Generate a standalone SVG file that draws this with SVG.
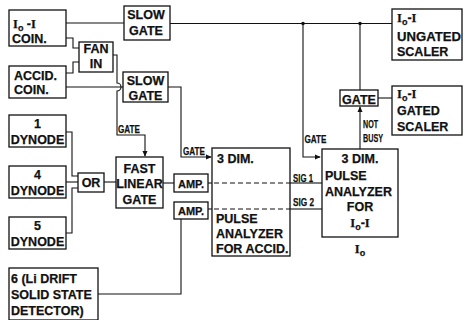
<svg xmlns="http://www.w3.org/2000/svg" width="465" height="320" viewBox="0 0 465 320">
<style>
.bx{fill:#fff;stroke:#111;stroke-width:1.3}
.ln{fill:none;stroke:#111;stroke-width:1.1}
.dash{fill:none;stroke:#111;stroke-width:1.1;stroke-dasharray:5 3}
text{font-family:"Liberation Sans",Arial,sans-serif;font-weight:bold;font-size:12.5px;fill:#111;stroke:#111;stroke-width:0.25}
.s{font-size:11px}
.m{font-size:11px}
.c{text-anchor:middle}
.sv{font-family:"Liberation Serif","Times New Roman",serif}
.sub{font-size:9px}
</style>
<defs>
<marker id="ah" viewBox="0 0 8 8" refX="7" refY="4" markerWidth="6" markerHeight="6" orient="auto" markerUnits="userSpaceOnUse">
<path d="M0,0.5 L8,4 L0,7.5 Z" fill="#111"/>
</marker>
</defs>
<rect width="465" height="320" fill="#fff"/>
<g id="connectors">
<path class="ln" d="M66,23 H124"/>
<path class="ln" d="M170,23.5 H392"/>
<circle cx="303" cy="23.5" r="1.8" fill="#111"/>
<circle cx="360" cy="23.5" r="1.8" fill="#111"/>
<path class="ln" d="M303,23.5 V157 H320" marker-end="url(#ah)"/>
<path class="ln" d="M360,23.5 V90"/>
<path class="ln" d="M378,98 H392"/>
<path class="ln" d="M360,149 V107" marker-end="url(#ah)"/>
<path class="ln" d="M66,38 H73 V48 H79"/>
<path class="ln" d="M66,73 H73 V62 H79"/>
<path class="ln" d="M66,87 H123"/>
<path class="ln" d="M113,55 H117 V83 A4,4 0 0 1 117,91 V135 H145 V156" marker-end="url(#ah)"/>
<path class="ln" d="M168,87 H181 V157 H211" marker-end="url(#ah)"/>
<path class="ln" d="M66,132 H72 V176 H78"/>
<path class="ln" d="M66,182 H78"/>
<path class="ln" d="M66,233 H72 V188 H78"/>
<path class="ln" d="M104,182 H116"/>
<path class="ln" d="M163,183 H174"/>
<path class="ln" d="M208,183 H212"/>
<path class="dash" d="M214,183 H290"/>
<path class="ln" d="M290,183 H322"/>
<path class="ln" d="M208,209 H212"/>
<path class="dash" d="M214,209 H290"/>
<path class="ln" d="M290,209 H322"/>
<path class="ln" d="M98,294 H181 V219"/>
<text class="s" x="118" y="133" textLength="22" lengthAdjust="spacingAndGlyphs">GATE</text>
<text class="s" x="183" y="155" textLength="22" lengthAdjust="spacingAndGlyphs">GATE</text>
<text class="s" x="304.5" y="143" textLength="22" lengthAdjust="spacingAndGlyphs">GATE</text>
<text class="s" x="363" y="128" textLength="15" lengthAdjust="spacingAndGlyphs">NOT</text>
<text class="s" x="363" y="142" textLength="20" lengthAdjust="spacingAndGlyphs">BUSY</text>
<text class="s" x="293" y="181.5" textLength="20" lengthAdjust="spacingAndGlyphs">SIG 1</text>
<text class="s" x="293" y="206" textLength="21" lengthAdjust="spacingAndGlyphs">SIG 2</text>
</g>
<g id="io-coin">
<rect class="bx" x="9" y="10" width="57" height="36"/>
<text x="13" y="28"><tspan class="sv">I</tspan><tspan class="sub" dy="3">o</tspan><tspan dy="-3"> -</tspan><tspan class="sv">I</tspan></text>
<text x="12" y="43">COIN.</text>
</g>
<g id="accid-coin">
<rect class="bx" x="9" y="66" width="57" height="32"/>
<text x="14" y="80">ACCID.</text>
<text x="14" y="94">COIN.</text>
</g>
<g id="fan-in">
<rect class="bx" x="79" y="42" width="34" height="30"/>
<text class="c" x="96" y="53">FAN</text>
<text class="c" x="96" y="68">IN</text>
</g>
<g id="slow-gate-1">
<rect class="bx" x="124" y="6" width="46" height="34"/>
<text class="c" x="146" y="19">SLOW</text>
<text class="c" x="146" y="35">GATE</text>
</g>
<g id="slow-gate-2">
<rect class="bx" x="123" y="72" width="45" height="30"/>
<text class="c" x="145.5" y="85">SLOW</text>
<text class="c" x="145.5" y="100">GATE</text>
</g>
<g id="ungated-scaler">
<rect class="bx" x="392" y="9" width="70" height="51"/>
<text x="397" y="22"><tspan class="sv">I</tspan><tspan class="sub" dy="3">o</tspan><tspan dy="-3">-</tspan><tspan class="sv">I</tspan></text>
<text x="397" y="41" textLength="64" lengthAdjust="spacingAndGlyphs">UNGATED</text>
<text x="397" y="56">SCALER</text>
</g>
<g id="gate">
<rect class="bx" x="340" y="90" width="38" height="16"/>
<text class="c" x="359" y="103.5">GATE</text>
</g>
<g id="gated-scaler">
<rect class="bx" x="392" y="86" width="70" height="49"/>
<text x="397" y="98"><tspan class="sv">I</tspan><tspan class="sub" dy="3">o</tspan><tspan dy="-3">-</tspan><tspan class="sv">I</tspan></text>
<text x="397" y="115">GATED</text>
<text x="397" y="131">SCALER</text>
</g>
<g id="dynode-1">
<rect class="bx" x="9" y="115" width="57" height="32"/>
<text class="c" x="37.5" y="128">1</text>
<text class="c" x="37.5" y="144">DYNODE</text>
</g>
<g id="dynode-4">
<rect class="bx" x="9" y="166" width="57" height="32"/>
<text class="c" x="37.5" y="179">4</text>
<text class="c" x="37.5" y="195">DYNODE</text>
</g>
<g id="dynode-5">
<rect class="bx" x="9" y="217" width="57" height="32"/>
<text class="c" x="37.5" y="230">5</text>
<text class="c" x="37.5" y="246">DYNODE</text>
</g>
<g id="or">
<rect class="bx" x="78" y="173" width="26" height="19"/>
<text class="c" x="91" y="187">OR</text>
</g>
<g id="fast-linear-gate">
<rect class="bx" x="116" y="157" width="47" height="51"/>
<text class="c" x="139.5" y="173">FAST</text>
<text class="c" x="139.5" y="188">LINEAR</text>
<text class="c" x="139.5" y="204">GATE</text>
</g>
<g id="amp-1">
<rect class="bx" x="174" y="174" width="34" height="18"/>
<text class="m c" x="191" y="188">AMP.</text>
</g>
<g id="amp-2">
<rect class="bx" x="174" y="202" width="34" height="17"/>
<text class="m c" x="191" y="214.5">AMP.</text>
</g>
<g id="pha-accid">
<rect class="bx" x="212" y="148" width="78" height="108" style="fill:none"/>
<text x="217" y="163">3 DIM.</text>
<text x="216" y="223">PULSE</text>
<text x="216" y="238">ANALYZER</text>
<text x="216" y="253">FOR ACCID.</text>
</g>
<g id="pha-io">
<rect class="bx" x="322" y="149" width="76" height="88"/>
<text class="c" x="360" y="163">3 DIM.</text>
<text x="325" y="180">PULSE</text>
<text x="325" y="196">ANALYZER</text>
<text class="c" x="360" y="211">FOR</text>
<text class="c" x="360" y="227"><tspan class="sv">I</tspan><tspan class="sub" dy="3">o</tspan><tspan dy="-3">-</tspan><tspan class="sv">I</tspan></text>
<text class="c" x="360" y="253"><tspan class="sv">I</tspan><tspan class="sub" dy="3">o</tspan></text>
</g>
<g id="detector">
<rect class="bx" x="9" y="268" width="89" height="52"/>
<text x="11" y="283">6 (Li DRIFT</text>
<text x="11" y="299">SOLID STATE</text>
<text x="11" y="315">DETECTOR)</text>
</g>
</svg>
